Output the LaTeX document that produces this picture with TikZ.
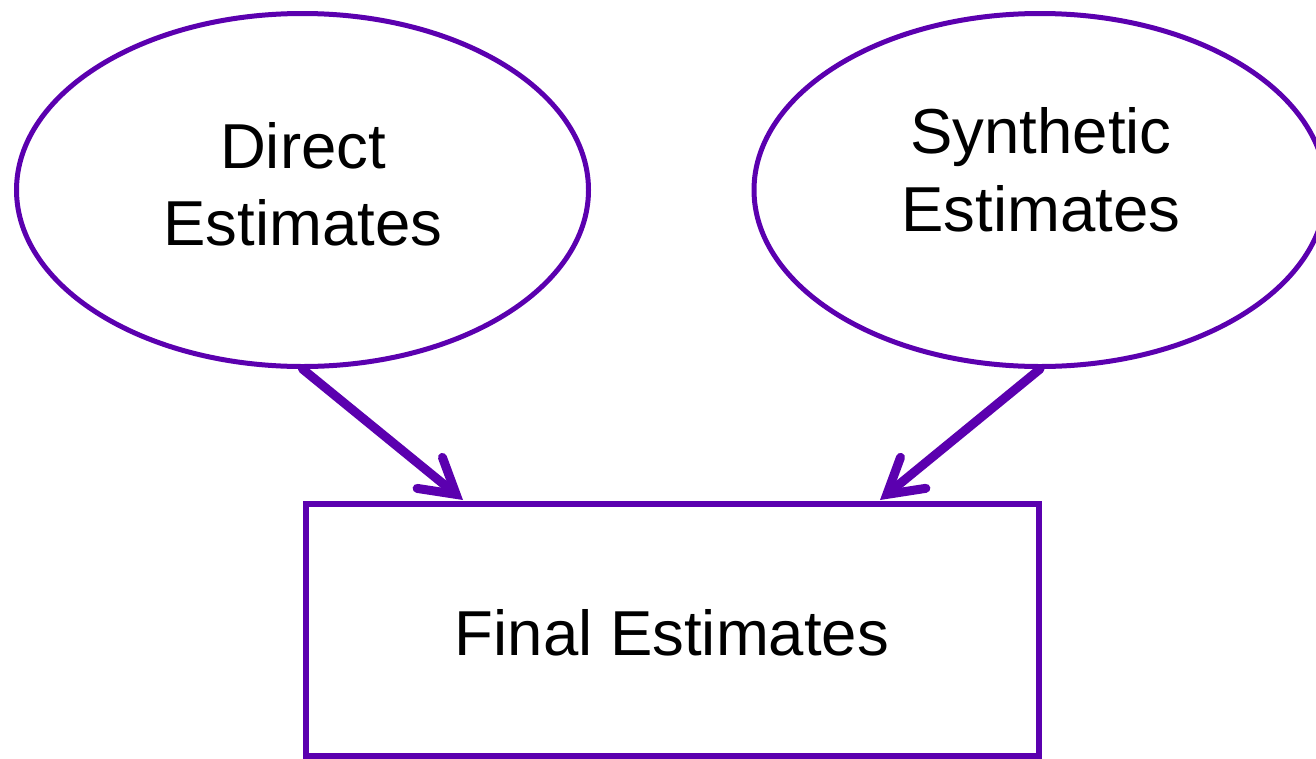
\documentclass[tikz,border=0pt]{standalone}
\usepackage{fontspec}
\setmainfont{Liberation Sans}
\usetikzlibrary{shapes.geometric,arrows.meta}
\definecolor{pur}{RGB}{91,0,175}
\tikzset{
  oval/.style={ellipse, draw=pur, line width=5pt, minimum width=572pt, minimum height=353pt, inner sep=0pt},
  box/.style={rectangle, draw=pur, line width=6pt, minimum width=733pt, minimum height=252pt, inner sep=0pt},
  txt/.style={font=\fontsize{63.5}{76}\selectfont, anchor=base, inner sep=0pt},
  conn/.style={draw=pur, line width=9pt, line cap=round, -{Straight Barb[length=34pt,width=40pt,line cap=round]}}
}
\begin{document}
\begin{tikzpicture}[x=1pt,y=-1pt]
\useasboundingbox (0,0) rectangle (1316,758);
\node[oval] (d) at (302.5,190) {};
\node[oval] (s) at (1040,190) {};
\node[box] (f) at (672,630) {};
\node[txt] (d1) at (303,168) {Direct};
\node[txt] (d2) at (303,245) {Estimates};
\node[txt] (s1) at (1041,153) {Synthetic};
\node[txt] (s2) at (1041,231) {Estimates};
\node[txt] (f1) at (672,655) {Final Estimates};
\coordinate (t1) at (463,500);
\coordinate (t2) at (880,500);
\draw[conn] (d.south) -- (t1);
\draw[conn] (s.south) -- (t2);
\end{tikzpicture}
\end{document}
